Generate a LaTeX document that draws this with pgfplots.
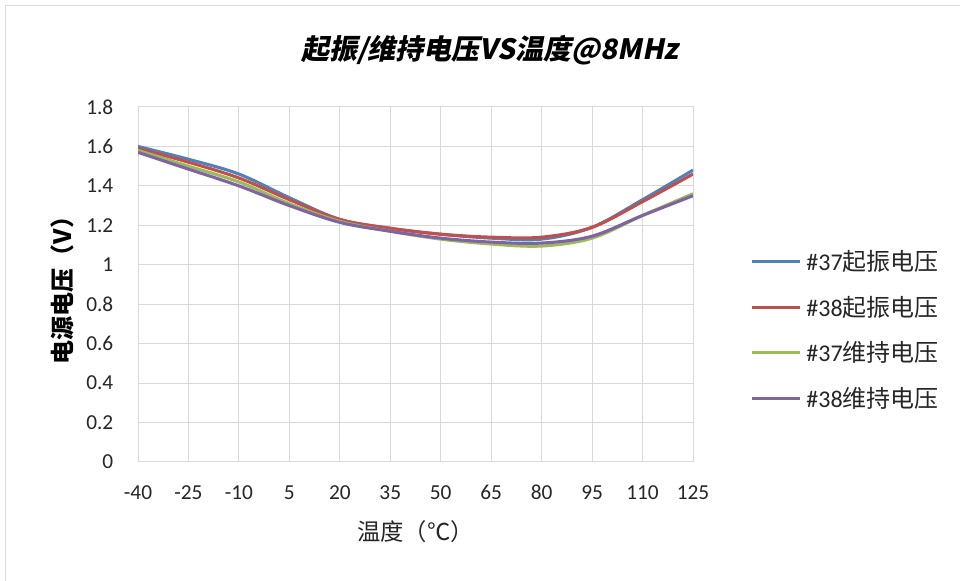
\documentclass[border=0pt]{standalone}
\usepackage{pgfplots}
\pgfplotsset{compat=1.18}
\usepackage{fontspec}
\setmainfont{Carlito}
\newfontfamily\cjk{Noto Sans CJK SC}
\newfontfamily\titlefont[FakeSlant=0.2]{Noto Sans CJK SC}
\definecolor{sBlue}{HTML}{4F81BD}
\definecolor{sRed}{HTML}{C0504D}
\definecolor{sGreen}{HTML}{9BBB59}
\definecolor{sPurple}{HTML}{8064A2}
\definecolor{gridc}{HTML}{D9D9D9}
\begin{document}
\begin{tikzpicture}
\useasboundingbox (0,0) rectangle (720pt,435.75pt);
\fill[white] (0,0) rectangle (720pt,435.75pt);
\draw[gridc, line width=1pt] (4pt,-5pt) rectangle (730pt,431.5pt);
\node[font=\titlefont\bfseries\fontsize{21}{24}\selectfont] at (367.5pt,398.25pt) {起振/维持电压VS温度@8MHz};
\begin{axis}[
  at={(103.5pt,89.25pt)}, anchor=south west,
  scale only axis, width=416.25pt, height=266.25pt,
  xmin=-40, xmax=125, ymin=0, ymax=1.8,
  xtick={-40,-25,-10,5,20,35,50,65,80,95,110,125},
  ytick={0,0.2,0.4,0.6,0.8,1,1.2,1.4,1.6,1.8},
  yticklabels={0,0.2,0.4,0.6,0.8,1,1.2,1.4,1.6,1.8},
  xticklabels={-40,-25,-10,5,20,35,50,65,80,95,110,125},
  major tick length=0pt,
  grid=major, grid style={gridc, line width=0.75pt},
  axis line style={gridc, line width=0.75pt},
  tick label style={font=\fontsize{16}{19}\selectfont, text=black!85},
  /pgf/number format/assume math mode=true,
  xticklabel style={yshift=-14pt},
  yticklabel style={xshift=-15pt},
  xlabel={\cjk 温度（℃）}, ylabel={\cjk\bfseries 电源电压（V）},
  xlabel style={at={(axis description cs:0.5,-0.197)}, anchor=center, font=\fontsize{17.5}{20}\selectfont, text=black!85},
  ylabel style={at={(axis description cs:-0.137,0.5)}, anchor=center, font=\fontsize{18}{21}\selectfont},
  legend cell align=left,
  legend style={at={(1.095,0.372)}, anchor=west, draw=none, fill=none,
    font=\fontsize{18}{20}\selectfont, text=black!85, row sep=13.5pt,
    nodes={inner xsep=4pt}},
  legend image code/.code={\draw[#1] (0pt,0pt) -- (36pt,0pt);},
  every axis plot/.append style={line width=2.3pt, smooth, tension=0.55},
]
\addplot[sBlue] coordinates {(-40,1.60) (-25,1.535) (-10,1.46) (5,1.34) (20,1.23) (35,1.185) (50,1.155) (65,1.135) (80,1.13) (95,1.19) (110,1.33) (125,1.48)};
\addlegendentry{\#37{\cjk 起振电压}}
\addplot[sRed] coordinates {(-40,1.59) (-25,1.52) (-10,1.44) (5,1.33) (20,1.23) (35,1.185) (50,1.155) (65,1.14) (80,1.14) (95,1.19) (110,1.32) (125,1.46)};
\addlegendentry{\#38{\cjk 起振电压}}
\addplot[sGreen] coordinates {(-40,1.58) (-25,1.50) (-10,1.42) (5,1.31) (20,1.22) (35,1.17) (50,1.13) (65,1.105) (80,1.095) (95,1.135) (110,1.25) (125,1.36)};
\addlegendentry{\#37{\cjk 维持电压}}
\addplot[sPurple] coordinates {(-40,1.57) (-25,1.485) (-10,1.40) (5,1.30) (20,1.215) (35,1.17) (50,1.135) (65,1.115) (80,1.11) (95,1.145) (110,1.25) (125,1.35)};
\addlegendentry{\#38{\cjk 维持电压}}
\end{axis}
\end{tikzpicture}
\end{document}
